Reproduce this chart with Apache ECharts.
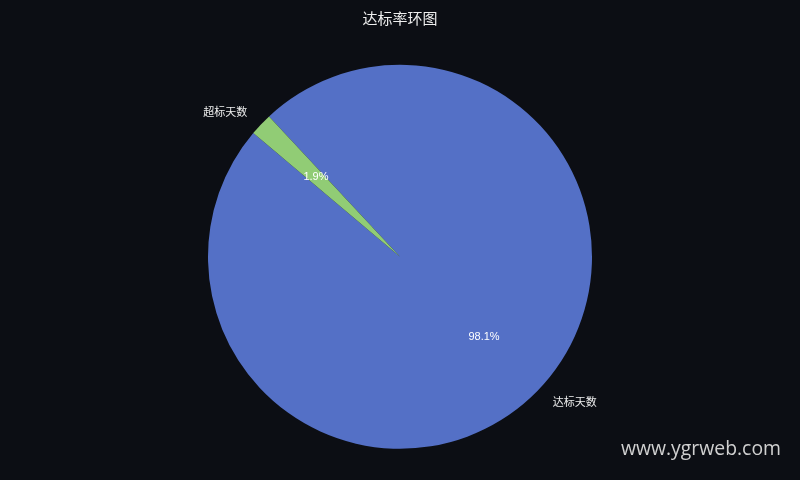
<!DOCTYPE html>
<html>
<head>
<meta charset="utf-8">
<script src="https://cdn.jsdelivr.net/npm/echarts@6/dist/echarts.min.js"></script>
<style>
html,body{margin:0;padding:0;background:#0c0e14;}
#main{width:800px;height:480px;}
</style>
</head>
<body>
<div id="main"></div>
<script>
const titleText = '达标率环图';
const categories = ['达标天数', '超标天数'];
const values = [98.1, 1.9];
const colors = ['#5470c6', '#91cc75'];
const watermark = 'www.ygrweb.com';

const pieData = categories.map((c, i) => ({ name: c, value: values[i], itemStyle: { color: colors[i] } }));
const labelData = categories.map((c, i) => ({ name: c, value: values[i] }));

const chart = echarts.init(document.getElementById('main'));
chart.setOption({
  backgroundColor: '#0c0e14',
  animation: false,
  title: {
    text: titleText,
    left: 'center',
    top: 6,
    textStyle: { color: '#eeeeee', fontSize: 15, fontWeight: 'normal', fontFamily: 'Noto Sans CJK SC' }
  },
  graphic: [{
    type: 'text',
    right: 19,
    bottom: 21,
    style: { text: watermark, fill: '#d0d0d0', fontSize: 19.4, fontFamily: 'Open Sans' }
  }],
  series: [{
    type: 'pie',
    radius: [0, 192],
    center: ['50%', '53.5%'],
    startAngle: 133,
    clockwise: true,
    data: pieData,
    label: {
      show: true,
      position: 'outside',
      formatter: '{b}',
      color: '#eeeeee',
      fontSize: 11,
      fontFamily: 'Noto Sans CJK SC',
      distanceToLabelLine: 0
    },
    labelLine: { show: false, length: 19, length2: 0 },
    emphasis: { disabled: true }
  }, {
    type: 'pie',
    radius: [34, 192],
    center: ['50%', '53.5%'],
    startAngle: 133,
    clockwise: true,
    data: labelData,
    itemStyle: { color: 'rgba(0,0,0,0)' },
    label: {
      show: true,
      position: 'inside',
      formatter: function (p) { return p.value.toFixed(1) + '%'; },
      color: '#ffffff',
      fontSize: 11,
      fontFamily: 'Liberation Sans'
    },
    labelLine: { show: false },
    silent: true
  }]
});
</script>
</body>
</html>
